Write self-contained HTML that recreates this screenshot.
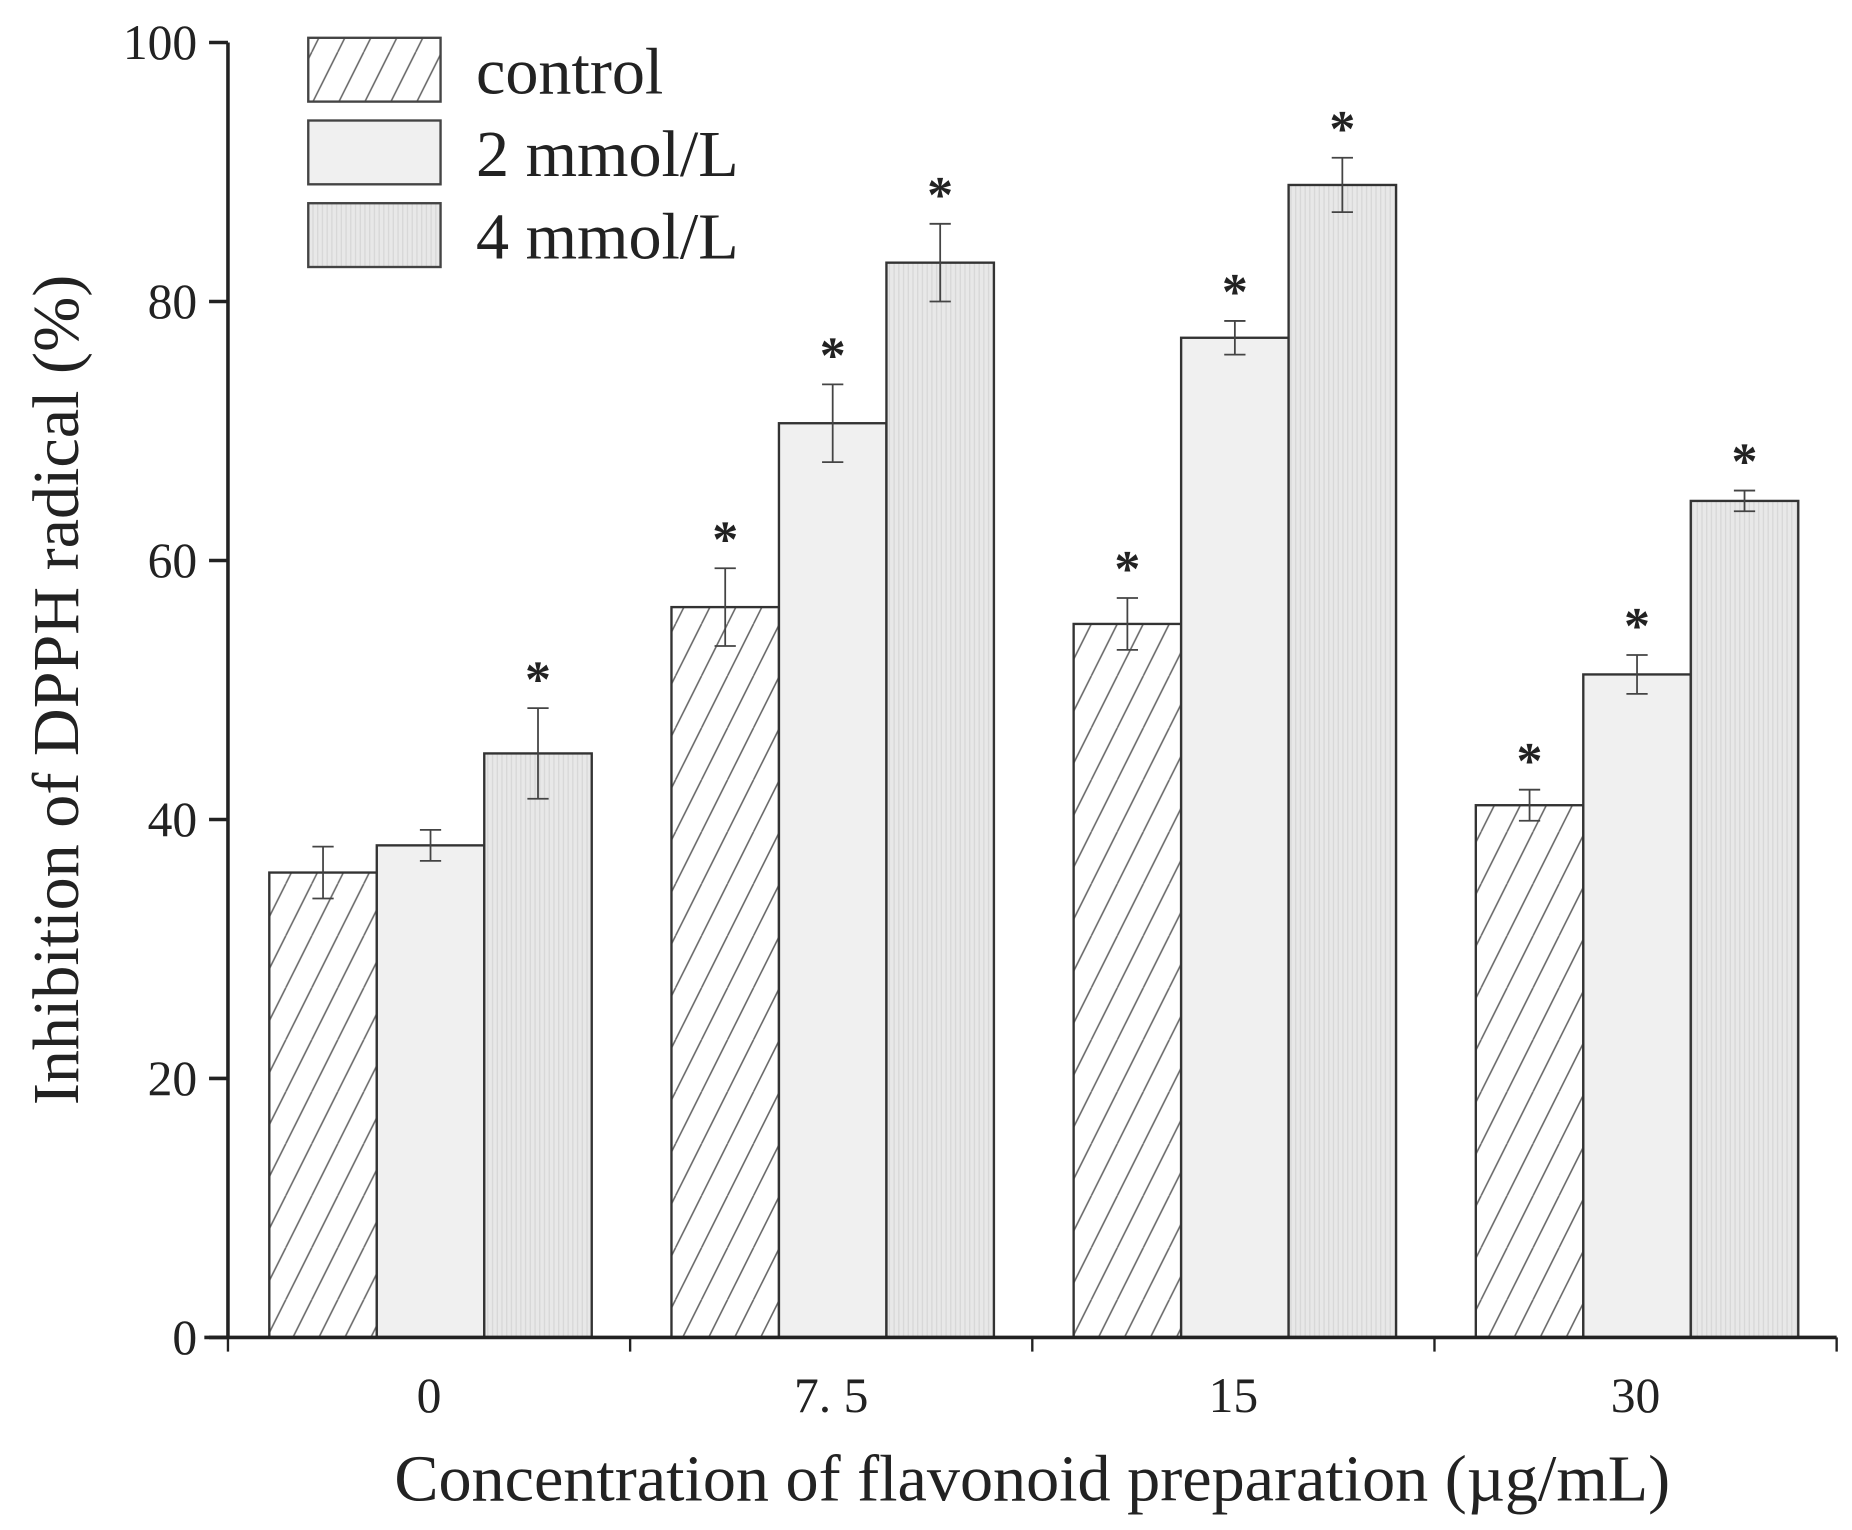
<!DOCTYPE html>
<html><head><meta charset="utf-8"><style>
html,body{margin:0;padding:0;background:#fff;}
svg{display:block;}
text{font-family:"Liberation Serif",serif;fill:#222;}
</style></head><body>
<svg id="chart" width="1852" height="1530" viewBox="0 0 1568 1295" preserveAspectRatio="none" xmlns="http://www.w3.org/2000/svg">
<defs>
<pattern id="hatch" patternUnits="userSpaceOnUse" width="22" height="44">
<line x1="0" y1="44" x2="22" y2="0" stroke="#666" stroke-width="1.3"/>
<line x1="-22" y1="44" x2="0" y2="0" stroke="#666" stroke-width="1.3"/>
<line x1="22" y1="44" x2="44" y2="0" stroke="#666" stroke-width="1.3"/>
</pattern>
<pattern id="vlines" patternUnits="userSpaceOnUse" width="4" height="4">
<rect width="4" height="4" fill="#e8e8e8"/>
<line x1="1" y1="0" x2="1" y2="4" stroke="#d6d6d6" stroke-width="1"/>
</pattern>
</defs>
<g id="plot"></g>
</svg>
<script>
const categories = ["0", "7. 5", "15", "30"];
const seriesNames = ["control", "2 mmol/L", "4 mmol/L"];
const controlValues = [35.9, 56.4, 55.1, 41.1];
const mm2Values = [38.0, 70.6, 77.2, 51.2];
const mm4Values = [45.1, 83.0, 89.0, 64.6];
const controlErr = [2.0, 3.0, 2.0, 1.2];
const mm2Err = [1.2, 3.0, 1.3, 1.5];
const mm4Err = [3.5, 3.0, 2.1, 0.8];
const controlStar = [false, true, true, true];
const mm2Star = [false, true, true, true];
const mm4Star = [true, true, true, true];
const yTicks = [0, 20, 40, 60, 80, 100];

const NS = "http://www.w3.org/2000/svg";
const g = document.getElementById("plot");
const X0 = 193, X1 = 1555, Y0 = 1132, Y100 = 36;
const groupW = (X1 - X0) / categories.length;
const barW = 91, groupPad = 35;
function yScale(v){ return Y0 - (Y0 - Y100) * v / 100; }
function xBar(ci, si){ return X0 + ci * groupW + groupPad + si * barW; }
function mk(tag, attrs){ const e = document.createElementNS(NS, tag); for (const k in attrs) e.setAttribute(k, attrs[k]); g.appendChild(e); return e; }

const series = [
  {vals: controlValues, err: controlErr, star: controlStar, fill: "url(#hatch)", key: "control"},
  {vals: mm2Values, err: mm2Err, star: mm2Star, fill: "#f0f0f0", key: "2mm"},
  {vals: mm4Values, err: mm4Err, star: mm4Star, fill: "url(#vlines)", key: "4mm"}
];

series.forEach((s, si) => {
  categories.forEach((c, ci) => {
    const x = xBar(ci, si), y = yScale(s.vals[ci]);
    const r = mk("rect", {x: x, y: y, width: barW, height: Y0 - y, fill: s.fill, stroke: "#333", "stroke-width": 2});
    
    
    const cx = x + barW / 2, yt = yScale(s.vals[ci] + s.err[ci]), yb = yScale(s.vals[ci] - s.err[ci]);
    const eb = mk("path", {d: `M${cx-9},${yt}H${cx+9}M${cx},${yt}V${yb}M${cx-9},${yb}H${cx+9}`, stroke: "#444", "stroke-width": 1.5, fill: "none"});
    
    
    if (s.star[ci]) {
      const t = mk("text", {x: cx, y: yt - 10, "text-anchor": "middle", "font-size": 44, "font-weight": "bold"});
      t.textContent = "*";
      
      
    }
  });
});

const ya = mk("line", {x1: X0, y1: Y100, x2: X0, y2: Y0, stroke: "#222", "stroke-width": 3});


const xa = mk("line", {x1: X0 - 20, y1: Y0, x2: X1, y2: Y0, stroke: "#222", "stroke-width": 3});


yTicks.forEach(v => {
  const y = yScale(v);
  mk("line", {x1: X0 - 16, y1: y, x2: X0, y2: y, stroke: "#222", "stroke-width": 3});
  const t = mk("text", {x: X0 - 26, y: y + 14, "text-anchor": "end", "font-size": 42, fill: "#444"});
  t.textContent = v;
  
  
});
for (let i = 0; i <= categories.length; i++) {
  const x = X0 + i * groupW;
  mk("line", {x1: x, y1: Y0, x2: x, y2: Y0 + 12, stroke: "#222", "stroke-width": 2});
}
categories.forEach((c, ci) => {
  const t = mk("text", {x: X0 + (ci + 0.5) * groupW, y: Y0 + 63, "text-anchor": "middle", "font-size": 42, fill: "#444"});
  t.textContent = c;
  
  
});
const xt = mk("text", {x: 874, y: 1270, "text-anchor": "middle", "font-size": 56});
xt.textContent = "Concentration of flavonoid preparation (\u00b5g/mL)";


const yt = mk("text", {x: 0, y: 0, "text-anchor": "middle", "font-size": 56, transform: "translate(66,584) rotate(-90)"});
yt.textContent = "Inhibition of DPPH radical (%)";



series.forEach((s, si) => {
  const y = 32 + si * 70;
  const r = mk("rect", {x: 261, y: y, width: 112, height: 54, fill: s.fill, stroke: "#444", "stroke-width": 2});
  
  
  const t = mk("text", {x: 403, y: y + 47, "font-size": 56});
  t.textContent = seriesNames[si];
  
  
});
</script>
</body></html>
